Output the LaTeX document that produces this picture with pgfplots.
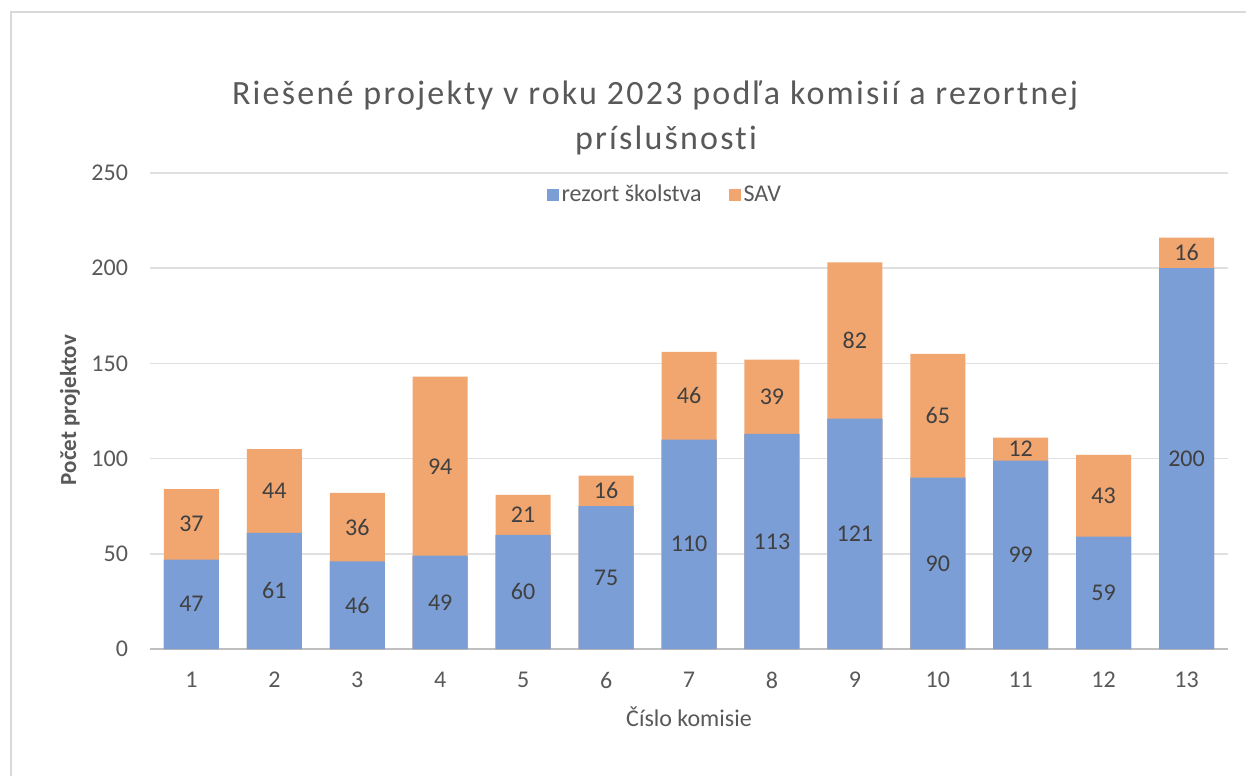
\documentclass[border=0pt]{standalone}
\usepackage{pgfplots}
\pgfplotsset{compat=1.18}
\usepackage{pgfplotstable}
\usepackage{fontspec}
\setmainfont{Carlito}[Ligatures={NoCommon}]
\definecolor{cblue}{HTML}{7C9ED6}
\definecolor{corange}{HTML}{F1A670}
\definecolor{ctext}{HTML}{595959}
\definecolor{clabel}{HTML}{404040}
\definecolor{cgrid}{HTML}{E0E0E0}
\definecolor{caxis}{HTML}{BFBFBF}
\definecolor{cframe}{HTML}{D9D9D9}
\pgfplotstableread{
x b s
1 47 37
2 61 44
3 46 36
4 49 94
5 60 21
6 75 16
7 110 46
8 113 39
9 121 82
10 90 65
11 99 12
12 59 43
13 200 16
}\data
\begin{document}
\begin{tikzpicture}
\useasboundingbox[fill=white] (0,0) rectangle (623pt,388pt);
\draw[cframe, line width=1pt] (5.5pt,0) -- (5.5pt,382pt) -- (623pt,382pt);
\node[anchor=base, text=ctext, inner sep=0pt, font=\fontsize{17}{20}\selectfont\addfontfeatures{LetterSpace=6.5}] at (327.5pt,335.5pt) {Riešené projekty v roku 2023 podľa komisií a rezortnej};
\node[anchor=base, text=ctext, inner sep=0pt, font=\fontsize{17}{20}\selectfont\addfontfeatures{LetterSpace=6.5}] at (333pt,313pt) {príslušnosti};
\begin{axis}[
  at={(75pt,63.5pt)}, anchor=south west,
  scale only axis, width=539pt, height=238pt,
  xmin=0.5, xmax=13.5, ymin=0, ymax=250,
  ytick={0,50,...,250}, xtick={1,...,13},
  ymajorgrids, major grid style={cgrid, line width=0.8pt},
  axis x line*=bottom, axis y line*=left,
  x axis line style={caxis, line width=1pt, -},
  y axis line style={draw=none},
  major tick style={draw=none},
  tick label style={text=ctext, font=\fontsize{12}{14}\selectfont},
  /pgf/number format/assume math mode=true,
  yticklabel style={xshift=-7.5pt},
  xticklabel style={anchor=center, yshift=-15.5pt},
  xlabel={Číslo komisie}, ylabel={Počet projektov},
  xlabel style={at={(rel axis cs:0.5,-0.143)}, anchor=center, text=ctext, font=\fontsize{12}{14}\selectfont},
  ylabel style={at={(rel axis cs:-0.0742,0.502)}, anchor=center, text=ctext, font=\fontsize{11.5}{14}\selectfont\bfseries},
  legend style={at={(rel axis cs:0.478,0.954)}, anchor=center, draw=none, fill=none, legend columns=2,
    font=\fontsize{12}{14}\selectfont, text=ctext, inner sep=0pt,
    /tikz/every even column/.append style={column sep=12pt},
    nodes={inner sep=1.5pt}},
  legend image code/.code={\fill[#1] (-2.5pt,-3pt) rectangle (3.5pt,3pt);},
  every node near coord/.append style={anchor=center, text=clabel, font=\fontsize{12}{14}\selectfont},
]
\addplot[ybar, bar width=27.5pt, bar shift=0pt, fill=cblue, draw=none] table[x=x, y=b] {\data};
\addlegendentry{rezort školstva}
\addplot[ybar, bar width=27.5pt, bar shift=0pt, fill=corange, draw=none] table[x=x, y expr=\thisrow{b}+\thisrow{s}] {\data};
\addlegendentry{SAV}
\addplot[ybar, bar width=27.5pt, bar shift=0pt, fill=cblue, draw=none, forget plot] table[x=x, y=b] {\data};
\addplot[draw=none, mark=none, forget plot, nodes near coords, point meta=explicit] table[x=x, y expr=\thisrow{b}/2, meta=b] {\data};
\addplot[draw=none, mark=none, forget plot, nodes near coords, point meta=explicit] table[x=x, y expr=\thisrow{b}+\thisrow{s}/2, meta=s] {\data};
\end{axis}
\end{tikzpicture}
\end{document}
